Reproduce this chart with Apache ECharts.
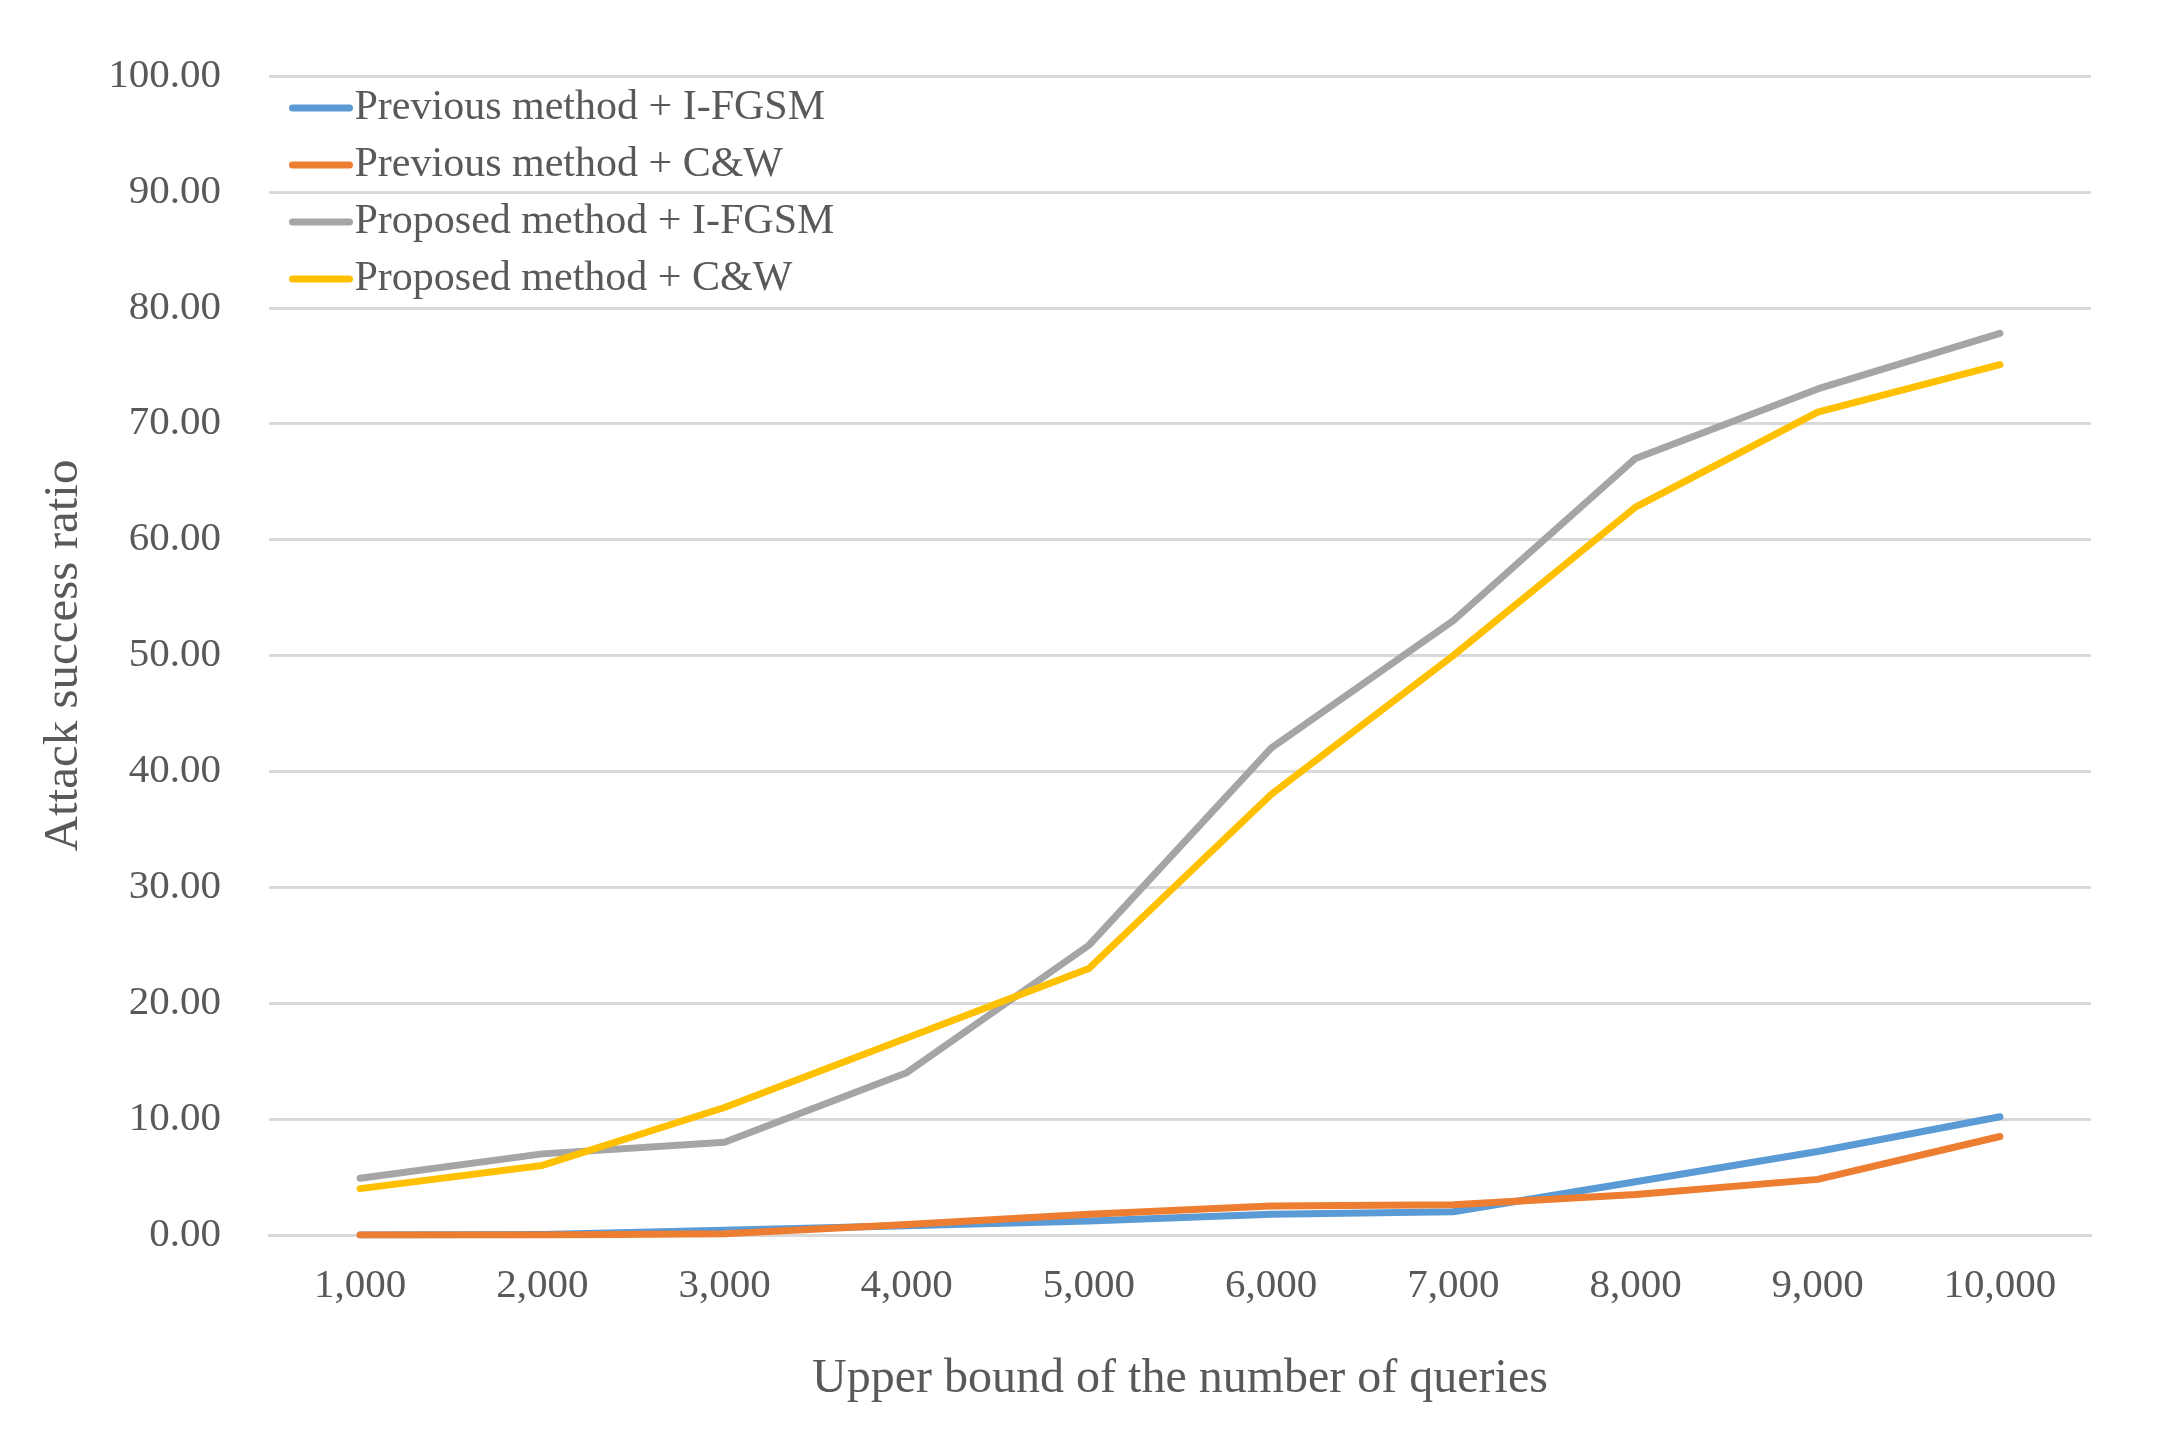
<!DOCTYPE html>
<html>
<head>
<meta charset="utf-8">
<script src="https://cdn.jsdelivr.net/npm/echarts@6/dist/echarts.min.js"></script>
<style>
html,body{margin:0;padding:0;background:#fff;}
#chart{width:2171px;height:1430px;}
</style>
</head>
<body>
<div id="chart"></div>
<script>
var categories = ['1,000','2,000','3,000','4,000','5,000','6,000','7,000','8,000','9,000','10,000'];
var prevIFGSM = [0.0, 0.05, 0.4, 0.8, 1.2, 1.8, 2.0, 4.6, 7.2, 10.2];
var prevCW    = [0.0, 0.0, 0.1, 0.9, 1.8, 2.5, 2.6, 3.5, 4.8, 8.5];
var propIFGSM = [4.9, 7.0, 8.0, 14.0, 25.0, 42.0, 53.0, 67.0, 73.0, 77.8];
var propCW    = [4.0, 6.0, 11.0, 17.0, 23.0, 38.0, 50.0, 62.8, 71.0, 75.1];
var seriesNames = ['Previous method + I-FGSM','Previous method + C&W','Proposed method + I-FGSM','Proposed method + C&W'];
var seriesColors = ['#5b9bd5','#ed7d31','#a5a5a5','#ffc000'];
var yTicks = {min:0, max:100, interval:10};

var FONT = '"Liberation Serif","Times New Roman",serif';
var TXT = '#595959';
var dataSets = [prevIFGSM, prevCW, propIFGSM, propCW];

var chart = echarts.init(document.getElementById('chart'));
chart.setOption({
  animation:false,
  backgroundColor:'#fff',
  textStyle:{fontFamily:FONT},
  grid:{left:269, right:80, top:76, bottom:195, containLabel:false},
  legend:{
    orient:'vertical', left:284, top:82,
    itemWidth:57, itemHeight:20, itemGap:15,
    lineStyle:{width:7, cap:'round'},
    itemStyle:{opacity:0},
    textStyle:{fontFamily:FONT, fontSize:42, color:TXT},
    data:seriesNames
  },
  xAxis:{
    type:'category', data:categories, boundaryGap:true,
    axisLine:{show:true, lineStyle:{color:'#d9d9d9', width:3}},
    axisTick:{show:false},
    axisLabel:{fontFamily:FONT, fontSize:41, color:TXT, margin:31},
    name:'Upper bound of the number of queries', nameLocation:'middle', nameGap:120,
    nameTextStyle:{fontFamily:FONT, fontSize:48, color:TXT}
  },
  yAxis:{
    type:'value', min:yTicks.min, max:yTicks.max, interval:yTicks.interval,
    axisLine:{show:false}, axisTick:{show:false},
    splitLine:{lineStyle:{color:'#d9d9d9', width:3}},
    axisLabel:{fontFamily:FONT, fontSize:41, color:TXT, margin:48, formatter:function(v){return v.toFixed(2);}},
    name:'Attack success ratio', nameLocation:'middle', nameGap:180,
    nameTextStyle:{fontFamily:FONT, fontSize:49, color:TXT}
  },
  series:dataSets.map(function(d,i){
    return {
      name:seriesNames[i], type:'line', data:d, symbol:'none', smooth:false,
      lineStyle:{color:seriesColors[i], width:7, cap:'round', join:'round'},
      itemStyle:{color:seriesColors[i]}
    };
  })
});
</script>
</body>
</html>
